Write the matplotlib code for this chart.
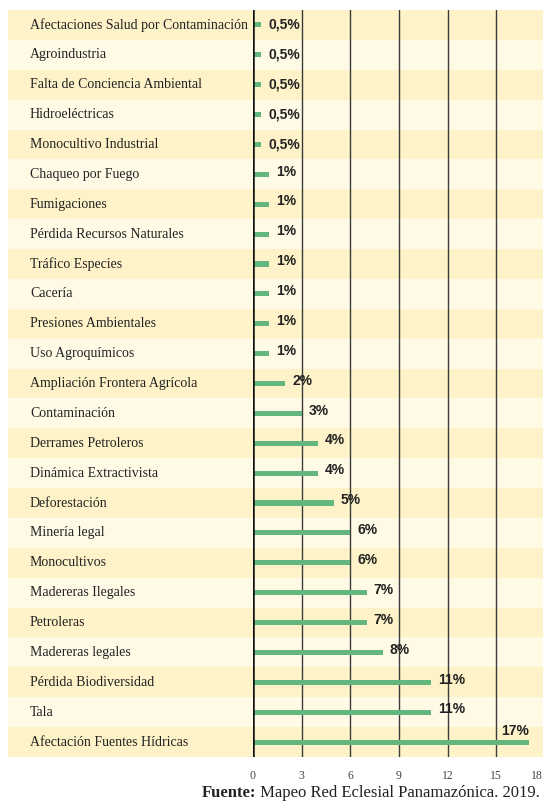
import matplotlib
matplotlib.use("Agg")
import matplotlib.pyplot as plt
import matplotlib.transforms as mtransforms

categories = [
    "Afectaciones Salud por Contaminación", "Agroindustria",
    "Falta de Conciencia Ambiental", "Hidroeléctricas", "Monocultivo Industrial",
    "Chaqueo por Fuego", "Fumigaciones", "Pérdida Recursos Naturales",
    "Tráfico Especies", "Cacería", "Presiones Ambientales", "Uso Agroquímicos",
    "Ampliación Frontera Agrícola", "Contaminación", "Derrames Petroleros",
    "Dinámica Extractivista", "Deforestación", "Minería legal", "Monocultivos",
    "Madereras Ilegales", "Petroleras", "Madereras legales",
    "Pérdida Biodiversidad", "Tala", "Afectación Fuentes Hídricas",
]
values = [0.5, 0.5, 0.5, 0.5, 0.5, 1, 1, 1, 1, 1, 1, 1, 2, 3, 4, 4, 5, 6, 6,
          7, 7, 8, 11, 11, 17]
value_labels = ["0,5%"] * 5 + ["1%"] * 7 + ["2%", "3%", "4%", "4%", "5%", "6%",
                "6%", "7%", "7%", "8%", "11%", "11%", "17%"]
xticks = [0, 3, 6, 9, 12, 15, 18]
source_bold = "Fuente:"
source_text = " Mapeo Red Eclesial Panamazónica. 2019."

W, H = 543, 805
fig = plt.figure(figsize=(W / 100, H / 100), dpi=100)
fig.patch.set_facecolor("white")

ax_left, ax_right = 253, 545
ax_top, ax_bot = 10, 757
ax = fig.add_axes([ax_left / W, (H - ax_bot) / H, (ax_right - ax_left) / W,
                   (ax_bot - ax_top) / H])
ax.set_facecolor("none")
n = len(categories)
ax.set_xlim(0, 18)
ax.set_ylim(n - 0.5, -0.5)

# row bands spanning the figure width
trans = mtransforms.blended_transform_factory(fig.transFigure, ax.transData)
dark, light = "#fef2c8", "#fffae6"
for i in range(n):
    rect = plt.Rectangle((8 / W, i - 0.5), 1 - 8 / W, 1.0, transform=trans,
                         facecolor=dark if i % 2 == 0 else light,
                         edgecolor="none", zorder=0, clip_on=False)
    fig.add_artist(rect)

# gridlines
for t in xticks[1:-1]:
    ax.axvline(t, color="#3c3c3c", lw=1.0, zorder=1)
ax.axvline(0, color="#111111", lw=1.8, zorder=3)

ypos = list(range(n))
ax.barh(ypos, values, height=0.17, color="#63b67e", zorder=2)

for i, (v, lab) in enumerate(zip(values, value_labels)):
    if v >= 15:
        ax.annotate(lab, (v, i), xytext=(0, 8), textcoords="offset points",
                    ha="right", va="center", fontsize=10, fontweight="bold",
                    family="Liberation Sans", color="#222222", zorder=4)
    else:
        dy = 0 if v < 1 else 2
        ax.annotate(lab, (v, i), xytext=(5, dy), textcoords="offset points",
                    ha="left", va="center", fontsize=10, fontweight="bold",
                    family="Liberation Sans", color="#222222", zorder=4)

# category labels
for i, c in enumerate(categories):
    ax.text(30 / W, i, c, transform=trans, ha="left", va="center",
            fontsize=10, family="Liberation Serif", color="#222222")

for s in ax.spines.values():
    s.set_visible(False)
ax.set_yticks([])
ax.set_xticks(xticks[:-1])
ax.set_xticklabels([str(t) for t in xticks[:-1]], family="Liberation Serif",
                   fontsize=8.5, color="#444444")
ax.tick_params(axis="x", length=0, pad=9)
# last tick label, nudged inside the figure
ax.annotate(str(xticks[-1]), (xticks[-1], 0), xycoords=("data", "axes fraction"),
            xytext=(-6, -9), textcoords="offset points", ha="center", va="top",
            family="Liberation Serif", fontsize=8.5, color="#444444",
            annotation_clip=False)

# source line
fig.canvas.draw()
r = fig.canvas.get_renderer()
t2 = fig.text(540 / W, (H - 793) / H, source_text, ha="right", va="center",
              fontsize=12, family="Liberation Serif", color="#222222")
bb = t2.get_window_extent(r)
fig.text(bb.x0 / W, (H - 793) / H, source_bold, ha="right", va="center",
         fontsize=12, family="Liberation Serif", fontweight="bold",
         color="#222222")

fig.savefig("out.png", dpi=100, facecolor="white")
